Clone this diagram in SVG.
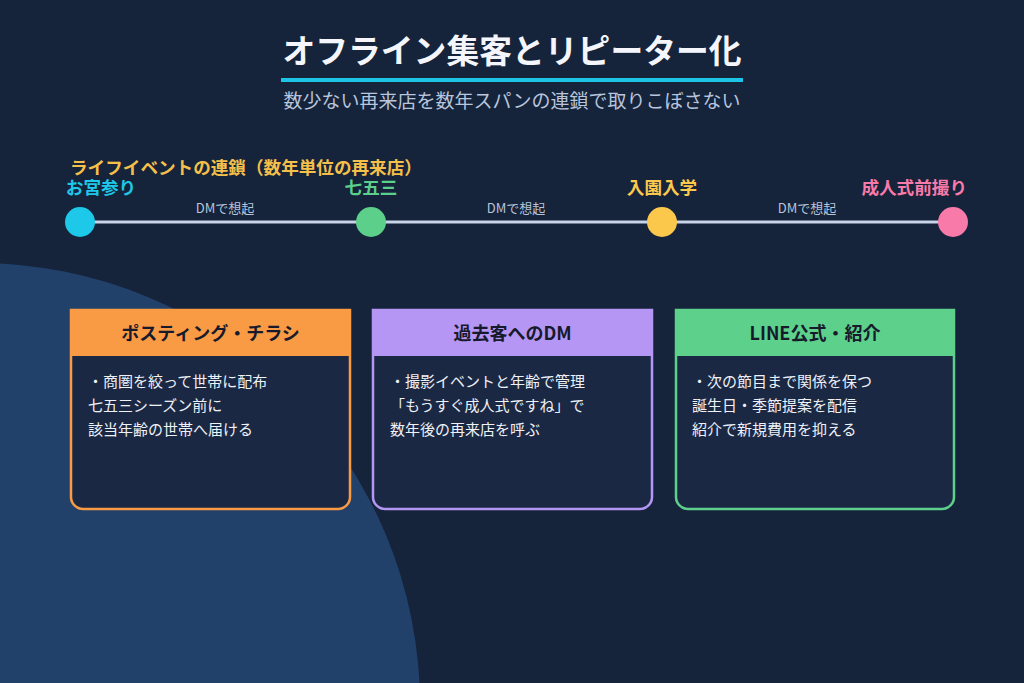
<svg xmlns="http://www.w3.org/2000/svg" width="1024" height="683" viewBox="0 0 1024 683">
<style>
text{font-family:"Noto Sans CJK JP","Noto Sans",sans-serif}
.title{font-size:32.8px;font-weight:700;fill:#f4f6fb}
.sub{font-size:19px;fill:#b8c5dc}
.ev{font-size:17.6px;font-weight:700}
.dm{font-size:13px;fill:#b8c5dc}
.hd{font-size:18px;font-weight:700;fill:#161a2b;text-anchor:middle}
.bd{font-size:15px;fill:#eef1f7}
.card{fill:#1b2844;stroke-width:2.5}
</style>
<rect width="1024" height="683" fill="#15233b"/>
<circle cx="-22" cy="705" r="442" fill="#22416a"/>
<g id="title">
<text class="title" x="512" y="63" text-anchor="middle">オフライン集客とリピーター化</text>
<rect x="281" y="78" width="462" height="4" fill="#1ec4e6"/>
<text class="sub" x="512" y="108" text-anchor="middle">数少ない再来店を数年スパンの連鎖で取りこぼさない</text>
</g>
<text class="ev" x="70" y="174" fill="#f5c04a">ライフイベントの連鎖（数年単位の再来店）</text>
<g id="connectors">
<line x1="80" y1="222" x2="953" y2="222" stroke="#c8d4e8" stroke-width="3"/>
<text class="dm" x="225" y="213" text-anchor="middle">DMで想起</text>
<text class="dm" x="516" y="213" text-anchor="middle">DMで想起</text>
<text class="dm" x="807" y="213" text-anchor="middle">DMで想起</text>
</g>
<g id="ev1"><circle cx="80" cy="222" r="15" fill="#1ec8e8"/><text class="ev" x="101" y="194" text-anchor="middle" fill="#1ec8e8">お宮参り</text></g>
<g id="ev2"><circle cx="371" cy="222" r="15" fill="#5cd08a"/><text class="ev" x="371" y="194" text-anchor="middle" fill="#5cd08a">七五三</text></g>
<g id="ev3"><circle cx="662" cy="222" r="15" fill="#fcc84c"/><text class="ev" x="662" y="194" text-anchor="middle" fill="#fcc84c">入園入学</text></g>
<g id="ev4"><circle cx="953" cy="222" r="15" fill="#f87aa8"/><text class="ev" x="967" y="194" text-anchor="end" fill="#f87aa8">成人式前撮り</text></g>
<g id="card1">
<path class="card" stroke="#f99a45" d="M71 310H350V497a12 12 0 0 1-12 12H83a12 12 0 0 1-12-12Z"/>
<rect x="71" y="310" width="279" height="46" fill="#f99a45"/>
<text class="hd" x="210.5" y="340">ポスティング・チラシ</text>
<text class="bd" x="88" y="387">・商圏を絞って世帯に配布</text>
<text class="bd" x="88" y="411">七五三シーズン前に</text>
<text class="bd" x="88" y="435">該当年齢の世帯へ届ける</text>
</g>
<g id="card2">
<path class="card" stroke="#b596f5" d="M373 310H652V497a12 12 0 0 1-12 12H385a12 12 0 0 1-12-12Z"/>
<rect x="373" y="310" width="279" height="46" fill="#b596f5"/>
<text class="hd" x="512.5" y="340">過去客へのDM</text>
<text class="bd" x="390" y="387">・撮影イベントと年齢で管理</text>
<text class="bd" x="390" y="411">「もうすぐ成人式ですね」で</text>
<text class="bd" x="390" y="435">数年後の再来店を呼ぶ</text>
</g>
<g id="card3">
<path class="card" stroke="#5dd08c" d="M676 310H954V497a12 12 0 0 1-12 12H688a12 12 0 0 1-12-12Z"/>
<rect x="676" y="310" width="278" height="46" fill="#5dd08c"/>
<text class="hd" x="815" y="340">LINE公式・紹介</text>
<text class="bd" x="692" y="387">・次の節目まで関係を保つ</text>
<text class="bd" x="692" y="411">誕生日・季節提案を配信</text>
<text class="bd" x="692" y="435">紹介で新規費用を抑える</text>
</g>
</svg>
